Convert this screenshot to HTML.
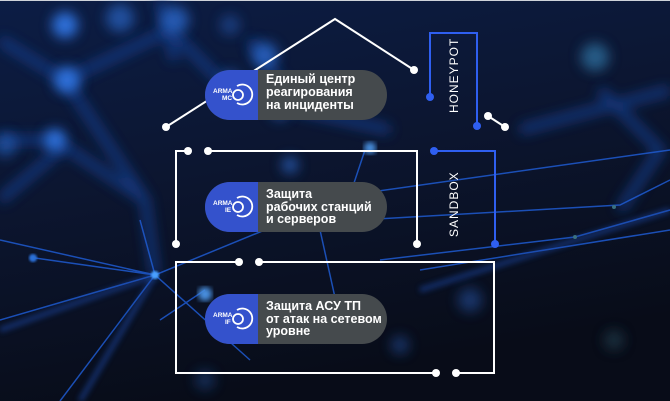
<!DOCTYPE html>
<html><head><meta charset="utf-8"><style>
html,body{margin:0;padding:0;width:670px;height:401px;overflow:hidden;background:#0a1020}
svg{display:block}
text{font-family:"Liberation Sans",sans-serif}
</style></head><body>
<svg width="670" height="401" viewBox="0 0 670 401" xmlns="http://www.w3.org/2000/svg">
<defs>
<linearGradient id="bg" x1="0" y1="0" x2="0.3" y2="1">
<stop offset="0" stop-color="#0c1d45"/><stop offset="0.45" stop-color="#0c1631"/><stop offset="1" stop-color="#080c18"/>
</linearGradient>
<filter id="b6"><feGaussianBlur stdDeviation="6"/></filter>
<filter id="b3"><feGaussianBlur stdDeviation="3"/></filter>
<filter id="b1"><feGaussianBlur stdDeviation="1"/></filter>
</defs>
<rect width="670" height="401" fill="url(#bg)"/>
<rect width="670" height="1" fill="#cfd3da"/>
<g filter="url(#b6)" stroke="#173c8a" stroke-width="10" fill="none" opacity="0.8">
<path d="M0 40 L65 80 L145 200 L155 275"/>
<path d="M65 80 L170 30 L230 90"/>
<path d="M0 140 L55 140 L145 200"/>
<path d="M160 0 L175 60"/>
<path d="M520 130 L670 90"/>
<path d="M600 90 L660 150 L620 210"/>
<path d="M0 200 L60 150"/>
<path d="M250 40 L300 110 L390 130"/>
</g>
<g filter="url(#b6)" fill="#2d6fd9">
<circle cx="65" cy="25" r="13"/><circle cx="120" cy="18" r="14" opacity="0.6"/><circle cx="175" cy="20" r="14" opacity="0.7"/>
<circle cx="67" cy="80" r="13"/><circle cx="55" cy="140" r="11"/><circle cx="5" cy="145" r="12" opacity="0.5"/>
<circle cx="265" cy="55" r="13" opacity="0.7"/><circle cx="230" cy="80" r="10" opacity="0.5"/>
<circle cx="280" cy="110" r="10" opacity="0.5"/><circle cx="230" cy="25" r="10" opacity="0.4"/>
<circle cx="290" cy="165" r="8" opacity="0.7"/>
<circle cx="595" cy="57" r="14" fill="#2d6a99" opacity="0.8"/>
<circle cx="470" cy="300" r="12" opacity="0.4"/>
<circle cx="400" cy="345" r="9" opacity="0.4"/>
<circle cx="614" cy="340" r="10" fill="#2a5060" opacity="0.5"/>
<circle cx="205" cy="380" r="10" opacity="0.3"/>
</g>
<g stroke="#1f5bd0" fill="none" stroke-width="1.5" opacity="0.85">
<path d="M0 240 L155 275 L250 360"/>
<path d="M0 320 L155 275 L350 195 L670 150"/>
<path d="M35 258 L155 275 L60 401"/>
<path d="M155 275 L140 220"/>
<path d="M320 230 L340 320"/>
<path d="M360 220 L620 205 L670 180"/>
<path d="M380 260 L575 237 L670 210"/>
<path d="M350 195 L365 150"/>
<path d="M420 270 L670 230"/>
<path d="M160 320 L205 290"/>
</g>
<g filter="url(#b3)" stroke="#1a4aa8" stroke-width="5" fill="none" opacity="0.6">
<path d="M0 330 L155 275"/><path d="M80 401 L155 275"/><path d="M420 290 L670 210"/>
</g>
<circle cx="155" cy="275" r="4" fill="#4aa0ff" filter="url(#b1)"/>
<circle cx="33" cy="258" r="4" fill="#2a70d8" filter="url(#b1)"/>
<circle cx="575" cy="237" r="2" fill="#3a7080"/><circle cx="614" cy="207" r="2" fill="#3a7080"/>
<circle cx="370" cy="148" r="6" fill="#4a90e0" filter="url(#b3)"/>
<circle cx="205" cy="294" r="7" fill="#4a90e0" filter="url(#b3)"/>

<g stroke="#fff" stroke-width="2" fill="none">
<path d="M166 127 L335 19 L414 70"/>
<path d="M488 116 L505 127"/>
<path d="M188 151 L176 151 L176 244"/>
<path d="M208 151 L417 151 L417 244"/>
<path d="M239 262 L176 262 L176 373 L436 373"/>
<path d="M259 262 L494 262 L494 373 L456 373"/>
</g>
<g stroke="#2f5ff0" stroke-width="2" fill="none">
<path d="M430 97 L430 33 L477 33 L477 126"/>
<path d="M434 151 L495 151 L495 244"/>
</g>
<g fill="#fff">
<circle cx="166" cy="127" r="4"/><circle cx="414" cy="70" r="4"/>
<circle cx="488" cy="116" r="4"/><circle cx="505" cy="127" r="4"/>
<circle cx="188" cy="151" r="4"/><circle cx="208" cy="151" r="4"/>
<circle cx="176" cy="244" r="4"/><circle cx="417" cy="244" r="4"/>
<circle cx="239" cy="262" r="4"/><circle cx="259" cy="262" r="4"/>
<circle cx="436" cy="373" r="4"/><circle cx="456" cy="373" r="4"/>
</g>
<g fill="#2f5ff0">
<circle cx="430" cy="97" r="4"/><circle cx="477" cy="126" r="4"/>
<circle cx="434" cy="151" r="4"/><circle cx="495" cy="244" r="4"/>
</g>
<text transform="translate(458,113) rotate(-90)" fill="#fff" font-size="12" letter-spacing="1">HONEYPOT</text>
<text transform="translate(458,237) rotate(-90)" fill="#fff" font-size="12" letter-spacing="1">SANDBOX</text>

<g>
<rect x="205" y="70" width="182" height="50" rx="25" fill="#454a4d"/>
<path d="M230 70 H258 V120 H230 A25 25 0 0 1 230 70Z" fill="#3452cc"/>
<rect x="205" y="182" width="182" height="50" rx="25" fill="#454a4d"/>
<path d="M230 182 H258 V232 H230 A25 25 0 0 1 230 182Z" fill="#3452cc"/>
<rect x="205" y="294" width="182" height="50" rx="25" fill="#454a4d"/>
<path d="M230 294 H258 V344 H230 A25 25 0 0 1 230 294Z" fill="#3452cc"/>
</g>
<g fill="none" stroke="#fff" stroke-width="1.8">
<path d="M237 86 A10 10 0 1 1 237 103"/><circle cx="238" cy="95" r="5"/>
<path d="M237 198 A10 10 0 1 1 237 215"/><circle cx="238" cy="207" r="5"/>
<path d="M237 310 A10 10 0 1 1 237 327"/><circle cx="238" cy="319" r="5"/>
</g>
<g fill="#fff" font-size="6.5" font-weight="bold">
<text x="213" y="93">ARMA</text><text x="222" y="100">MC</text>
<text x="213" y="205">ARMA</text><text x="225" y="212">IE</text>
<text x="213" y="317">ARMA</text><text x="225" y="324">IF</text>
</g>
<g fill="#fff" font-size="12.5" font-weight="bold">
<text x="266" y="83">Единый центр</text><text x="266" y="96">реагирования</text><text x="266" y="109">на инциденты</text>
<text x="266" y="198">Защита</text><text x="266" y="211">рабочих станций</text><text x="266" y="223">и серверов</text>
<text x="266" y="310">Защита АСУ ТП</text><text x="266" y="323">от атак на сетевом</text><text x="266" y="335">уровне</text>
</g>
</svg>
</body></html>
